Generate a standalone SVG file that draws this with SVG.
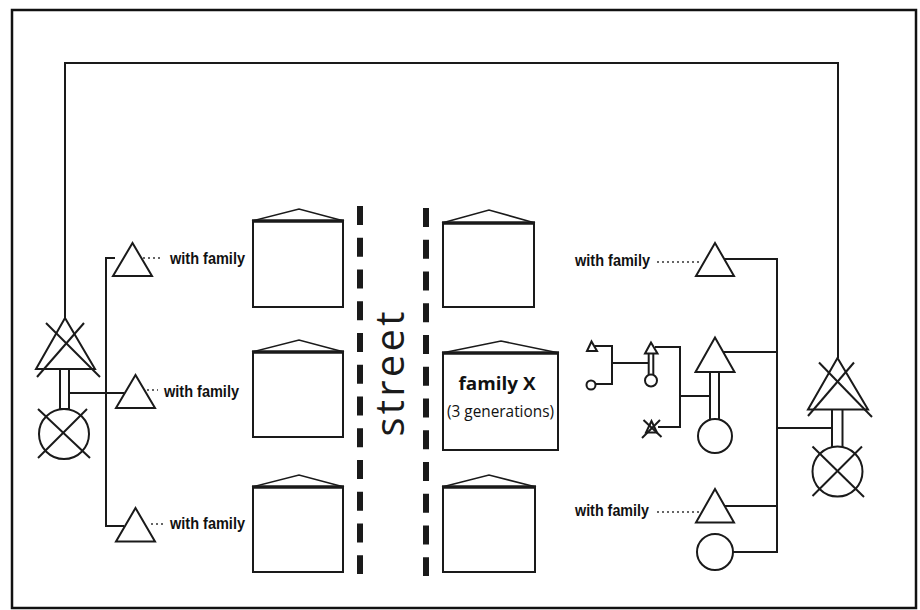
<svg xmlns="http://www.w3.org/2000/svg" width="920" height="610" viewBox="0 0 920 610">
<style>
.ln{fill:none;stroke:#1a1a1a;stroke-width:2}
.dot{fill:none;stroke:#333;stroke-width:1.3;stroke-dasharray:2 3}
.sh{fill:#fff;stroke:#1a1a1a;stroke-width:2}
.roof{fill:none;stroke:#1a1a1a;stroke-width:1.6;stroke-linejoin:miter}
.top{stroke:#1a1a1a;stroke-width:3.5}
.wf{font-family:"Liberation Sans",Arial,sans-serif;font-weight:bold;font-size:16px;fill:#111}
.dash{stroke:#1a1a1a;stroke-width:6;stroke-dasharray:19 12.75}
</style>
<rect x="0" y="0" width="920" height="610" fill="#fff"/>
<rect x="12" y="10" width="904" height="598" fill="none" stroke="#111" stroke-width="2.5"/>

<g id="connectors">
  <polyline class="ln" points="65,318 65,63 838,63 838,358"/>
  <polyline class="ln" points="115,258 106,258 106,526 124,526"/>
  <line class="ln" x1="69" y1="393" x2="124" y2="393"/>
  <line class="dot" x1="143" y1="258" x2="162" y2="258"/>
  <line class="dot" x1="147" y1="390" x2="158" y2="390"/>
  <line class="dot" x1="151" y1="524" x2="163" y2="524"/>
  <line class="dot" x1="657" y1="262" x2="702" y2="262"/>
  <line class="dot" x1="657" y1="512" x2="701" y2="512"/>
  <polyline class="ln" points="724,259 777,259 777,552 733,552"/>
  <line class="ln" x1="723" y1="352" x2="777" y2="352"/>
  <line class="ln" x1="724" y1="506" x2="777" y2="506"/>
  <line class="ln" x1="777" y1="428" x2="832" y2="428"/>
  <line class="ln" x1="680" y1="396" x2="710" y2="396"/>
  <polyline class="ln" points="655,347 680,347 680,427 658,427"/>
  <polyline class="ln" points="595,346 612,346 612,384 595,384"/>
  <line class="ln" x1="612" y1="363" x2="649" y2="363"/>
</g>

<g id="left-couple">
  <rect class="sh" x="60" y="369" width="9" height="40"/>
  <polygon class="sh" points="65,318 36,369 95,369"/>
  <line class="ln" x1="46" y1="323" x2="100" y2="377"/>
  <line class="ln" x1="84" y1="323" x2="37" y2="377"/>
  <circle class="sh" cx="64" cy="434" r="25"/>
  <line class="ln" x1="38" y1="409" x2="90" y2="458"/>
  <line class="ln" x1="87" y1="409" x2="38" y2="458"/>
</g>

<g id="left-son-1">
  <polygon class="sh" points="132.5,243 113,276 152,276"/>
  <text class="wf" x="170" y="264" textLength="75" lengthAdjust="spacingAndGlyphs">with family</text>
</g>
<g id="left-son-2">
  <polygon class="sh" points="135.5,375 116,408 155,408"/>
  <text class="wf" x="164" y="397" textLength="75" lengthAdjust="spacingAndGlyphs">with family</text>
</g>
<g id="left-son-3">
  <polygon class="sh" points="135.5,508 116,541.5 155,541.5"/>
  <text class="wf" x="170" y="528.5" textLength="75" lengthAdjust="spacingAndGlyphs">with family</text>
</g>

<g id="house-l1">
  <rect class="sh" x="253" y="221" width="90" height="86"/>
  <polyline class="roof" points="252,221 299,209 344,221"/>
  <line class="top" x1="252" y1="221" x2="344" y2="221"/>
</g>
<g id="house-l2">
  <rect class="sh" x="253" y="352" width="90" height="85"/>
  <polyline class="roof" points="252,352 299,340 344,352"/>
  <line class="top" x1="252" y1="352" x2="344" y2="352"/>
</g>
<g id="house-l3">
  <rect class="sh" x="253" y="487" width="90" height="85"/>
  <polyline class="roof" points="252,487 299,475 344,487"/>
  <line class="top" x1="252" y1="487" x2="344" y2="487"/>
</g>
<g id="house-r1">
  <rect class="sh" x="443" y="223" width="91" height="84"/>
  <polyline class="roof" points="442,223 489,210 535,223"/>
  <line class="top" x1="442" y1="223" x2="535" y2="223"/>
</g>
<g id="house-familyX">
  <rect class="sh" x="443" y="353" width="115" height="97"/>
  <polyline class="roof" points="442,353 501,341 559,353"/>
  <line class="top" x1="442" y1="353" x2="559" y2="353"/>
  <text x="497" y="390" text-anchor="middle" font-family="'Open Sans',sans-serif" font-weight="bold" font-size="18" fill="#111" textLength="77" lengthAdjust="spacingAndGlyphs">family X</text>
  <text x="500.5" y="417" text-anchor="middle" font-family="'Open Sans',sans-serif" font-size="17" fill="#111" textLength="107" lengthAdjust="spacingAndGlyphs">(3 generations)</text>
</g>
<g id="house-r3">
  <rect class="sh" x="443" y="487" width="92" height="85"/>
  <polyline class="roof" points="442,487 489,475 536,487"/>
  <line class="top" x1="442" y1="487" x2="536" y2="487"/>
</g>

<g id="street">
  <line class="dash" x1="360" y1="206" x2="360" y2="574"/>
  <line class="dash" x1="426" y1="208" x2="426" y2="576"/>
  <text transform="translate(404,374) rotate(-90)" text-anchor="middle" font-family="'Open Sans',sans-serif" font-size="40" fill="#1a1a1a" textLength="125" lengthAdjust="spacing">street</text>
</g>

<g id="right-brother-1">
  <polygon class="sh" points="715,243 696,276 734,276"/>
  <text class="wf" x="575" y="266" textLength="75" lengthAdjust="spacingAndGlyphs">with family</text>
</g>
<g id="right-couple-x">
  <rect class="sh" x="710" y="372" width="9" height="48"/>
  <polygon class="sh" points="715,337.5 695.5,372 734.5,372"/>
  <circle class="sh" cx="715" cy="436" r="17"/>
</g>
<g id="right-brother-2">
  <polygon class="sh" points="715,489 696,522.5 734,522.5"/>
  <text class="wf" x="575" y="516" textLength="74" lengthAdjust="spacingAndGlyphs">with family</text>
</g>
<g id="right-sister">
  <circle class="sh" cx="715" cy="552" r="18"/>
</g>

<g id="small-couple">
  <polygon class="sh" points="591.5,341.5 587,351 597,351"/>
  <circle class="sh" cx="591" cy="385" r="4.5"/>
</g>
<g id="small-couple-2">
  <rect class="sh" x="648.7" y="353" width="4.6" height="22"/>
  <polygon class="sh" points="651,342.5 645,353.5 657.5,353.5"/>
  <circle class="sh" cx="651" cy="380.5" r="6"/>
</g>
<g id="small-deceased">
  <polygon class="sh" points="651.5,421 646,432.5 657,432.5"/>
  <line class="ln" x1="642" y1="438" x2="660" y2="420"/>
  <line class="ln" x1="643.5" y1="420" x2="661.5" y2="437"/>
</g>

<g id="right-couple">
  <rect class="sh" x="832" y="409" width="10.5" height="38"/>
  <polygon class="sh" points="837.5,358 808,409.5 868,409.5"/>
  <line class="ln" x1="819" y1="362.5" x2="872" y2="417"/>
  <line class="ln" x1="854" y1="362.5" x2="808" y2="416"/>
  <circle class="sh" cx="837.5" cy="471.5" r="25"/>
  <line class="ln" x1="812.5" y1="446.5" x2="864" y2="497"/>
  <line class="ln" x1="862" y1="446.5" x2="812.5" y2="496"/>
</g>
</svg>
